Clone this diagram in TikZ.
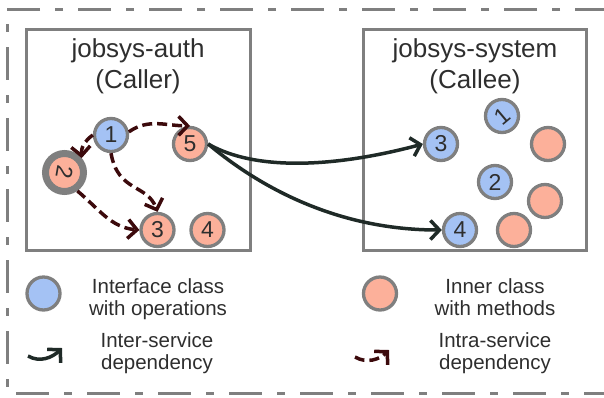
\documentclass[tikz,border=0pt]{standalone}
\usepackage{fontspec}
\setmainfont{Liberation Sans}
\usetikzlibrary{arrows.meta}
\definecolor{ifblue}{HTML}{A4C2F4}
\definecolor{inred}{HTML}{FCB09A}
\definecolor{bgray}{HTML}{7F7F7F}
\definecolor{txt}{HTML}{2E2E2E}
\definecolor{intercol}{HTML}{1F2A27}
\definecolor{intracol}{HTML}{3C0A0C}
\begin{document}
\begin{tikzpicture}[x=1pt,y=1pt,
  outerframe/.style={draw=bgray, line width=3pt, dash pattern=on 33pt off 15pt on 8pt off 15pt, dash phase=67pt},
  servicebox/.style={draw=bgray, line width=3pt},
  cls/.style={circle, draw=bgray, line width=3.3pt, minimum size=33pt, inner sep=0pt, text=txt, font=\fontsize{23}{23}\selectfont},
  iface/.style={cls, fill=ifblue},
  innercls/.style={cls, fill=inred},
  titletext/.style={text=txt, font=\fontsize{26}{31}\selectfont, align=center, anchor=base},
  legtext/.style={text=txt, font=\fontsize{20.5}{22}\selectfont, align=center, anchor=base},
  inter/.style={draw=intercol, line width=3.5pt, -{Straight Barb[length=9pt,width=19pt]}},
  intra/.style={draw=intracol, line width=3.5pt, dash pattern=on 10pt off 5pt, -{Straight Barb[length=9pt,width=19pt]}},
]
\useasboundingbox (0,0) rectangle (604,-397);
\draw[outerframe] (612,-9) -- (7,-9) -- (7,-393) -- (612,-393);
\draw[servicebox] (26.5,-29.5) rectangle (250.5,-250);
\draw[servicebox] (363.5,-29.5) rectangle (586.5,-250);

\node[titletext] (authtitle) at (138,-88) {jobsys-auth\\(Caller)};
\node[titletext] (systitle) at (475,-88) {jobsys-system\\(Callee)};

% caller classes
\node[iface] (a1) at (111,-135) {1};
\node[innercls] (a5) at (190,-144) {5};
\node[innercls, line width=7pt, minimum size=38pt] (a2) at (64.5,-172.5) {\rotatebox[origin=c]{-100}{2}};
\node[innercls] (a3) at (157.5,-230) {3};
\node[innercls] (a4) at (207.5,-230) {4};

% callee classes
\node[iface] (s3) at (441,-144) {3};
\node[iface] (s1) at (502,-116) {\rotatebox[origin=c]{40}{1}};
\node[innercls] (s6) at (548,-144) {};
\node[iface] (s2) at (495,-182) {2};
\node[innercls] (s7) at (545,-201) {};
\node[iface] (s4) at (460,-230) {4};
\node[innercls] (s8) at (514,-230) {};

% inter-service dependencies
\draw[inter] (a5.east) .. controls +(-30:55) and +(195:90) .. (s3.west);
\draw[inter] (a5.east) .. controls +(-40:60) and +(180:110) .. (s4.west);

% intra-service dependencies
\draw[intra] (a1.10) to[out=35,in=180] (a5.north);
\draw[intra] (a1.west) to[out=215,in=95] (a2.40);
\draw[intra] (a1.south) .. controls +(-80:40) and +(110:30) .. (a3.north);
\draw[intra] (a2.-55) to[out=-40,in=175] (a3.west);

% legend
\node[iface] (legif) at (43.5,-293.5) {};
\node[legtext] (legiftext) at (158,-315) {Interface class\\with operations};
\node[innercls] (legin) at (380,-293.5) {};
\node[legtext] (legintext) at (495,-315) {Inner class\\with methods};
\coordinate (ic1) at (28,-356);
\coordinate (ic2) at (62,-348);
\draw[inter] (ic1) to[out=-30,in=225] (ic2);
\node[legtext] (leginter) at (157,-369) {Inter-service\\dependency};
\coordinate (ic3) at (355,-357);
\coordinate (ic4) at (389,-350);
\draw[intra] (ic3) to[out=-30,in=225] (ic4);
\node[legtext] (legintra) at (495,-369) {Intra-service\\dependency};
\end{tikzpicture}
\end{document}
